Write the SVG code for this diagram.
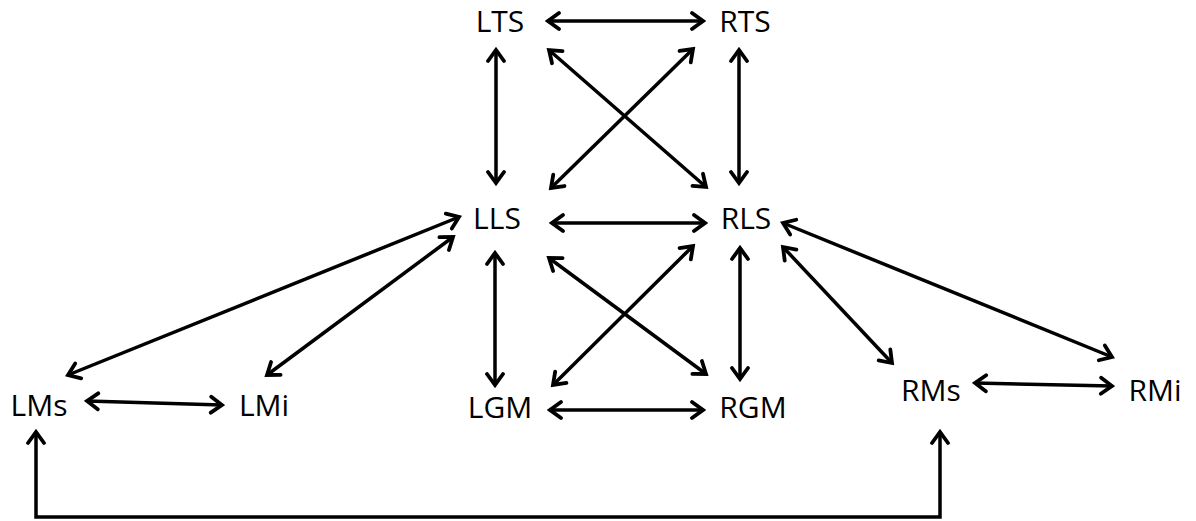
<svg xmlns="http://www.w3.org/2000/svg" width="1196" height="521" viewBox="0 0 1196 521">
<style>
.lbl{font-family:"Open Sans","Liberation Sans",sans-serif;font-size:30px;fill:#000;text-anchor:middle}
.c{stroke:#000;stroke-width:3.5;fill:none;marker-start:url(#ah);marker-end:url(#ah)}
</style>
<defs>
<marker id="ah" markerUnits="userSpaceOnUse" viewBox="-15 -11 18 22" markerWidth="18" markerHeight="22" refX="0" refY="0" orient="auto-start-reverse">
<path d="M-11,-8 L0,0 L-11,8" fill="none" stroke="#000" stroke-width="3.8" stroke-linecap="round" stroke-linejoin="miter"/>
</marker>
</defs>
<rect width="1196" height="521" fill="#fff"/>
<g id="connectors">
<line class="c" x1="548" y1="21" x2="703" y2="21"/>
<line class="c" x1="552" y1="223" x2="705" y2="223"/>
<line class="c" x1="87" y1="401" x2="222" y2="405"/>
<line class="c" x1="550" y1="410" x2="703" y2="410"/>
<line class="c" x1="975" y1="383" x2="1112" y2="386"/>
<line class="c" x1="496" y1="50" x2="496" y2="183"/>
<line class="c" x1="739" y1="50" x2="739" y2="183"/>
<line class="c" x1="495" y1="253" x2="495" y2="385"/>
<line class="c" x1="740" y1="248" x2="740" y2="379"/>
<line class="c" x1="549" y1="50" x2="706" y2="187"/>
<line class="c" x1="693" y1="49" x2="551" y2="188"/>
<line class="c" x1="549" y1="258" x2="706" y2="374"/>
<line class="c" x1="693" y1="246" x2="553" y2="385"/>
<line class="c" x1="459" y1="217" x2="68" y2="375"/>
<line class="c" x1="453" y1="237" x2="267" y2="375"/>
<line class="c" x1="783" y1="223" x2="1112" y2="357"/>
<line class="c" x1="783" y1="247" x2="892" y2="363"/>
<path class="c" d="M36,432 V517 H940 V432"/>
</g>
<g id="LTS"><text class="lbl" x="500" y="32">LTS</text></g>
<g id="RTS"><text class="lbl" x="745" y="32">RTS</text></g>
<g id="LLS"><text class="lbl" x="497" y="229">LLS</text></g>
<g id="RLS"><text class="lbl" x="746" y="229">RLS</text></g>
<g id="LMs"><text class="lbl" x="39" y="416">LMs</text></g>
<g id="LMi"><text class="lbl" x="264" y="416">LMi</text></g>
<g id="LGM"><text class="lbl" x="500" y="418">LGM</text></g>
<g id="RGM"><text class="lbl" x="753" y="418">RGM</text></g>
<g id="RMs"><text class="lbl" x="931" y="401">RMs</text></g>
<g id="RMi"><text class="lbl" x="1155" y="401">RMi</text></g>
</svg>
